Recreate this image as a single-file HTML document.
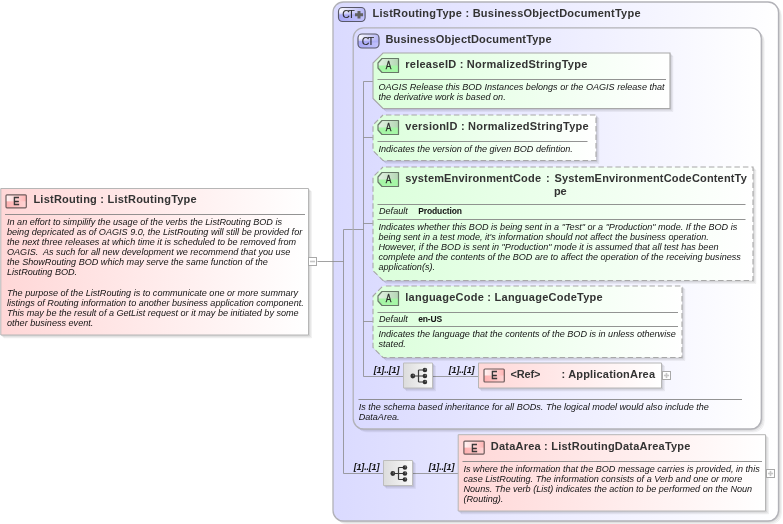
<!DOCTYPE html>
<html><head><meta charset="utf-8"><title>ListRouting</title>
<style>html,body{margin:0;padding:0;background:#fff}svg{display:block;font-family:'Liberation Sans', sans-serif;will-change:transform;transform:translateZ(0)}</style>
</head><body>
<svg width="783" height="524" viewBox="0 0 783 524">
<defs>
<linearGradient id="gE" x1="0" y1="0" x2="1" y2="0"><stop offset="0" stop-color="#fff4f4"/><stop offset="1" stop-color="#ffb4b4"/></linearGradient>
<linearGradient id="gE2" x1="0" y1="0" x2="1" y2="0"><stop offset="0" stop-color="#ffb0b0"/><stop offset="1" stop-color="#ffd4d4"/></linearGradient>
<linearGradient id="gA" x1="0" y1="0" x2="1" y2="0"><stop offset="0" stop-color="#e4f2e4"/><stop offset="1" stop-color="#b4d6b4"/></linearGradient>
<linearGradient id="gCT" x1="0" y1="0" x2="0" y2="1"><stop offset="0" stop-color="#f2f2ff"/><stop offset="0.5" stop-color="#d8d8fc"/><stop offset="0.55" stop-color="#aeaef4"/><stop offset="1" stop-color="#b8b8f6"/></linearGradient>
<linearGradient id="gCTa" x1="0" y1="0" x2="1" y2="0"><stop offset="0" stop-color="#fbfbff"/><stop offset="1" stop-color="#b6b6f6"/></linearGradient>
<linearGradient id="gCTb" x1="0" y1="0" x2="1" y2="0"><stop offset="0" stop-color="#a8a8f6"/><stop offset="1" stop-color="#c2c2fb"/></linearGradient>
<linearGradient id="gCTc" x1="0" y1="0" x2="0" y2="1"><stop offset="0" stop-color="#b0b0f6" stop-opacity="0"/><stop offset="1" stop-color="#aaaaf5" stop-opacity="0.9"/></linearGradient>
<linearGradient id="gSeq" x1="0" y1="0" x2="1" y2="0"><stop offset="0" stop-color="#dcdcdc"/><stop offset="1" stop-color="#fafafa"/></linearGradient>
<linearGradient id="g1" gradientUnits="userSpaceOnUse" x1="333" y1="0" x2="778" y2="0"><stop offset="0" stop-color="#dadaff"/><stop offset="1" stop-color="#ffffff"/></linearGradient>
<clipPath id="c2"><rect x="338.5" y="7.5" width="26.6" height="14" rx="4"/></clipPath>
<linearGradient id="g3" gradientUnits="userSpaceOnUse" x1="353" y1="0" x2="761" y2="0"><stop offset="0" stop-color="#dadaff"/><stop offset="1" stop-color="#ffffff"/></linearGradient>
<clipPath id="c4"><rect x="358" y="34" width="21" height="14" rx="4"/></clipPath>
<linearGradient id="g5" gradientUnits="userSpaceOnUse" x1="373" y1="0" x2="670" y2="0"><stop offset="0" stop-color="#dbffdb"/><stop offset="1" stop-color="#ffffff"/></linearGradient>
<linearGradient id="g6" gradientUnits="userSpaceOnUse" x1="373" y1="0" x2="596" y2="0"><stop offset="0" stop-color="#dbffdb"/><stop offset="1" stop-color="#ffffff"/></linearGradient>
<linearGradient id="g7" gradientUnits="userSpaceOnUse" x1="373" y1="0" x2="753" y2="0"><stop offset="0" stop-color="#dbffdb"/><stop offset="1" stop-color="#ffffff"/></linearGradient>
<linearGradient id="g8" gradientUnits="userSpaceOnUse" x1="373" y1="0" x2="682" y2="0"><stop offset="0" stop-color="#dbffdb"/><stop offset="1" stop-color="#ffffff"/></linearGradient>
<linearGradient id="g9" gradientUnits="userSpaceOnUse" x1="478" y1="0" x2="661" y2="0"><stop offset="0" stop-color="#ffd7d7"/><stop offset="1" stop-color="#ffffff"/></linearGradient>
<linearGradient id="g10" gradientUnits="userSpaceOnUse" x1="458" y1="0" x2="765" y2="0"><stop offset="0" stop-color="#ffd7d7"/><stop offset="1" stop-color="#ffffff"/></linearGradient>
<linearGradient id="g11" gradientUnits="userSpaceOnUse" x1="1" y1="0" x2="308" y2="0"><stop offset="0" stop-color="#ffd7d7"/><stop offset="1" stop-color="#ffffff"/></linearGradient>
</defs>
<rect width="783" height="524" fill="#fff"/>
<path d="M343.5,2H768.0A10.5,10.5 0 0 1 778.5,12.5V510.5A10.5,10.5 0 0 1 768.0,521H343.5A10.5,10.5 0 0 1 333,510.5V12.5A10.5,10.5 0 0 1 343.5,2Z" transform="translate(3,3)" fill="#000" fill-opacity="0.035" stroke="#000" stroke-opacity="0.035" stroke-width="1"/><path d="M343.5,2H768.0A10.5,10.5 0 0 1 778.5,12.5V510.5A10.5,10.5 0 0 1 768.0,521H343.5A10.5,10.5 0 0 1 333,510.5V12.5A10.5,10.5 0 0 1 343.5,2Z" transform="translate(2,2)" fill="#000" fill-opacity="0.04" stroke="#000" stroke-opacity="0.04" stroke-width="1"/><path d="M343.5,2H768.0A10.5,10.5 0 0 1 778.5,12.5V510.5A10.5,10.5 0 0 1 768.0,521H343.5A10.5,10.5 0 0 1 333,510.5V12.5A10.5,10.5 0 0 1 343.5,2Z" transform="translate(1,1)" fill="#000" fill-opacity="0.06" stroke="#000" stroke-opacity="0.06" stroke-width="1"/>
<path d="M343.5,2H768.0A10.5,10.5 0 0 1 778.5,12.5V510.5A10.5,10.5 0 0 1 768.0,521H343.5A10.5,10.5 0 0 1 333,510.5V12.5A10.5,10.5 0 0 1 343.5,2Z" fill="url(#g1)" stroke="#b2b2b8" stroke-width="1.3"/>
<g clip-path="url(#c2)"><rect x="338.5" y="7.5" width="26.6" height="14" fill="url(#gCTa)"/><rect x="338.5" y="14.5" width="26.6" height="7.0" fill="url(#gCTb)"/><rect x="338.5" y="11.7" width="26.6" height="4.2" fill="url(#gCTc)"/></g><rect x="338.5" y="7.5" width="26.6" height="14" rx="4" fill="none" stroke="#585868" stroke-width="1.15"/><text x="342.3" y="18.3" fill="#2a2a2a" xml:space="preserve" font-size="10.5" textLength="12.4" lengthAdjust="spacing" stroke="#2a2a2a" stroke-width="0.12">CT</text><path d="M355.0,14.7H363.0M359.0,10.899999999999999V18.5" stroke="#626262" stroke-width="3" fill="none"/>
<text x="372.5" y="17" fill="#333" xml:space="preserve" font-size="11" font-weight="bold" textLength="268" lengthAdjust="spacing">ListRoutingType : BusinessObjectDocumentType</text>
<path d="M317.5,261.5H343.5" stroke="#888" stroke-opacity="0.78" stroke-width="1" fill="none"/>
<path d="M353.5,229.5H343.5V473.5H383.5" stroke="#888" stroke-opacity="0.78" stroke-width="1" fill="none"/>
<path d="M412.5,473.5H458.5" stroke="#888" stroke-opacity="0.78" stroke-width="1" fill="none"/>
<path d="M363.7,27.8H750.8A10.5,10.5 0 0 1 761.3,38.3V418.5A10.5,10.5 0 0 1 750.8,429.0H363.7A10.5,10.5 0 0 1 353.2,418.5V38.3A10.5,10.5 0 0 1 363.7,27.8Z" transform="translate(3,3)" fill="#000" fill-opacity="0.035" stroke="#000" stroke-opacity="0.035" stroke-width="1"/><path d="M363.7,27.8H750.8A10.5,10.5 0 0 1 761.3,38.3V418.5A10.5,10.5 0 0 1 750.8,429.0H363.7A10.5,10.5 0 0 1 353.2,418.5V38.3A10.5,10.5 0 0 1 363.7,27.8Z" transform="translate(2,2)" fill="#000" fill-opacity="0.04" stroke="#000" stroke-opacity="0.04" stroke-width="1"/><path d="M363.7,27.8H750.8A10.5,10.5 0 0 1 761.3,38.3V418.5A10.5,10.5 0 0 1 750.8,429.0H363.7A10.5,10.5 0 0 1 353.2,418.5V38.3A10.5,10.5 0 0 1 363.7,27.8Z" transform="translate(1,1)" fill="#000" fill-opacity="0.06" stroke="#000" stroke-opacity="0.06" stroke-width="1"/>
<path d="M363.7,27.8H750.8A10.5,10.5 0 0 1 761.3,38.3V418.5A10.5,10.5 0 0 1 750.8,429.0H363.7A10.5,10.5 0 0 1 353.2,418.5V38.3A10.5,10.5 0 0 1 363.7,27.8Z" fill="url(#g3)" stroke="#b2b2b8" stroke-width="1.3"/>
<g clip-path="url(#c4)"><rect x="358" y="34" width="21" height="14" fill="url(#gCTa)"/><rect x="358" y="41.0" width="21" height="7.0" fill="url(#gCTb)"/><rect x="358" y="38.2" width="21" height="4.2" fill="url(#gCTc)"/></g><rect x="358" y="34" width="21" height="14" rx="4" fill="none" stroke="#585868" stroke-width="1.15"/><text x="361.8" y="44.8" fill="#2a2a2a" xml:space="preserve" font-size="10.5" textLength="12.4" lengthAdjust="spacing" stroke="#2a2a2a" stroke-width="0.12">CT</text>
<text x="385.5" y="43" fill="#333" xml:space="preserve" font-size="11" font-weight="bold" textLength="166" lengthAdjust="spacing">BusinessObjectDocumentType</text>
<path d="M353.5,229.5H363.5" stroke="#888" stroke-opacity="0.78" stroke-width="1" fill="none"/>
<path d="M373.5,81.5H363.5V376.5H403.5" stroke="#888" stroke-opacity="0.78" stroke-width="1" fill="none"/>
<path d="M363.5,137.5H373.5" stroke="#888" stroke-opacity="0.78" stroke-width="1" fill="none"/>
<path d="M363.5,223.5H373.5" stroke="#888" stroke-opacity="0.78" stroke-width="1" fill="none"/>
<path d="M363.5,321.5H373.5" stroke="#888" stroke-opacity="0.78" stroke-width="1" fill="none"/>
<path d="M432.5,376.5H478.5" stroke="#888" stroke-opacity="0.78" stroke-width="1" fill="none"/>
<path d="M358.5,399.5L742,399.5" stroke="#808080" stroke-opacity="0.85" stroke-width="1" fill="none"/>
<text x="358.7" y="409.5" fill="#141414" xml:space="preserve" font-size="9.08" font-style="italic">Is the schema based inheritance for all BODs. The logical model would also include the</text>
<text x="358.7" y="419.5" fill="#141414" xml:space="preserve" font-size="9.08" font-style="italic">DataArea.</text>
<path d="M383,53H670V108.5H383L373,98.5V63Z" transform="translate(3,3)" fill="#000" fill-opacity="0.035" stroke="#000" stroke-opacity="0.035" stroke-width="1"/><path d="M383,53H670V108.5H383L373,98.5V63Z" transform="translate(2,2)" fill="#000" fill-opacity="0.04" stroke="#000" stroke-opacity="0.04" stroke-width="1"/><path d="M383,53H670V108.5H383L373,98.5V63Z" transform="translate(1,1)" fill="#000" fill-opacity="0.06" stroke="#000" stroke-opacity="0.06" stroke-width="1"/><path d="M383,53H670V108.5H383L373,98.5V63Z" fill="url(#g5)" stroke="#a8a8a8" stroke-width="1.1"/><path d="M382,58.5H398.5V72.5H382L378,68.0V63.0Z" fill="url(#gA)"/><path d="M378,65.5H398.5V72.5H382L378,68.0Z" fill="#a6f6a6"/><path d="M382,58.5H398.5V72.5H382L378,68.0V63.0Z" fill="none" stroke="#687868" stroke-width="1.2" stroke-linejoin="round"/><g transform="translate(388.45,69.3) scale(0.8,1)"><text x="0" y="0" fill="#2a2a2a" xml:space="preserve" font-size="10.5" text-anchor="middle" stroke="#2a2a2a" stroke-width="0.3">A</text></g>
<text x="405.3" y="68" fill="#333" xml:space="preserve" font-size="11" font-weight="bold" textLength="182" lengthAdjust="spacing">releaseID : NormalizedStringType</text>
<path d="M377.5,79.5L666,79.5" stroke="#808080" stroke-opacity="0.85" stroke-width="1" fill="none"/>
<text x="378.5" y="89.5" fill="#141414" xml:space="preserve" font-size="9.08" font-style="italic">OAGIS Release this BOD Instances belongs or the OAGIS release that</text>
<text x="378.5" y="99.5" fill="#141414" xml:space="preserve" font-size="9.08" font-style="italic">the derivative work is based on.</text>
<path d="M383,115H596V160.5H383L373,150.5V125Z" transform="translate(3,3)" fill="#000" fill-opacity="0.035" stroke="#000" stroke-opacity="0.035" stroke-width="1"/><path d="M383,115H596V160.5H383L373,150.5V125Z" transform="translate(2,2)" fill="#000" fill-opacity="0.04" stroke="#000" stroke-opacity="0.04" stroke-width="1"/><path d="M383,115H596V160.5H383L373,150.5V125Z" transform="translate(1,1)" fill="#000" fill-opacity="0.06" stroke="#000" stroke-opacity="0.06" stroke-width="1"/><path d="M383,115H596V160.5H383L373,150.5V125Z" fill="url(#g6)" stroke="#a8a8a8" stroke-width="1.1" stroke-dasharray="5.5,3" stroke-dashoffset="5.6"/><path d="M382,120.5H398.5V134.5H382L378,130.0V125.0Z" fill="url(#gA)"/><path d="M378,127.5H398.5V134.5H382L378,130.0Z" fill="#a6f6a6"/><path d="M382,120.5H398.5V134.5H382L378,130.0V125.0Z" fill="none" stroke="#687868" stroke-width="1.2" stroke-linejoin="round"/><g transform="translate(388.45,131.3) scale(0.8,1)"><text x="0" y="0" fill="#2a2a2a" xml:space="preserve" font-size="10.5" text-anchor="middle" stroke="#2a2a2a" stroke-width="0.3">A</text></g>
<text x="405.3" y="130" fill="#333" xml:space="preserve" font-size="11" font-weight="bold" textLength="183.3" lengthAdjust="spacing">versionID : NormalizedStringType</text>
<path d="M377.5,141.5L587.5,141.5" stroke="#808080" stroke-opacity="0.85" stroke-width="1" fill="none"/>
<text x="378.5" y="151.5" fill="#141414" xml:space="preserve" font-size="9.08" font-style="italic">Indicates the version of the given BOD defintion.</text>
<path d="M383,167H753V280.5H383L373,270.5V177Z" transform="translate(3,3)" fill="#000" fill-opacity="0.035" stroke="#000" stroke-opacity="0.035" stroke-width="1"/><path d="M383,167H753V280.5H383L373,270.5V177Z" transform="translate(2,2)" fill="#000" fill-opacity="0.04" stroke="#000" stroke-opacity="0.04" stroke-width="1"/><path d="M383,167H753V280.5H383L373,270.5V177Z" transform="translate(1,1)" fill="#000" fill-opacity="0.06" stroke="#000" stroke-opacity="0.06" stroke-width="1"/><path d="M383,167H753V280.5H383L373,270.5V177Z" fill="url(#g7)" stroke="#a8a8a8" stroke-width="1.1" stroke-dasharray="5.5,3" stroke-dashoffset="5.6"/><path d="M382,172.5H398.5V186.5H382L378,182.0V177.0Z" fill="url(#gA)"/><path d="M378,179.5H398.5V186.5H382L378,182.0Z" fill="#a6f6a6"/><path d="M382,172.5H398.5V186.5H382L378,182.0V177.0Z" fill="none" stroke="#687868" stroke-width="1.2" stroke-linejoin="round"/><g transform="translate(388.45,183.3) scale(0.8,1)"><text x="0" y="0" fill="#2a2a2a" xml:space="preserve" font-size="10.5" text-anchor="middle" stroke="#2a2a2a" stroke-width="0.3">A</text></g>
<text x="405.3" y="182" fill="#333" xml:space="preserve" font-size="11" font-weight="bold" textLength="135.7" lengthAdjust="spacing">systemEnvironmentCode</text>
<text x="546" y="182" fill="#333" xml:space="preserve" font-size="11" font-weight="bold">:</text>
<text x="554.5" y="182" fill="#333" xml:space="preserve" font-size="11" font-weight="bold" textLength="192.3" lengthAdjust="spacing">SystemEnvironmentCodeContentTy</text>
<text x="554" y="195" fill="#333" xml:space="preserve" font-size="11" font-weight="bold" textLength="12.5" lengthAdjust="spacing">pe</text>
<path d="M377.5,204.5L745.5,204.5" stroke="#808080" stroke-opacity="0.85" stroke-width="1" fill="none"/>
<text x="379" y="214" fill="#141414" xml:space="preserve" font-size="9.08" font-style="italic">Default</text>
<text x="418.2" y="213.8" fill="#111" xml:space="preserve" font-size="8.5" font-weight="bold" textLength="43.8" lengthAdjust="spacing">Production</text>
<path d="M377.5,219.5L745.5,219.5" stroke="#808080" stroke-opacity="0.85" stroke-width="1" fill="none"/>
<text x="378.5" y="229.5" fill="#141414" xml:space="preserve" font-size="9.08" font-style="italic">Indicates whether this BOD is being sent in a "Test" or a "Production" mode. If the BOD is</text>
<text x="378.5" y="239.6" fill="#141414" xml:space="preserve" font-size="9.08" font-style="italic">being sent in a test mode, it's information should not affect the business operation.</text>
<text x="378.5" y="249.7" fill="#141414" xml:space="preserve" font-size="9.08" font-style="italic">However, if the BOD is sent in "Production" mode it is assumed that all test has been</text>
<text x="378.5" y="259.8" fill="#141414" xml:space="preserve" font-size="9.08" font-style="italic">complete and the contents of the BOD are to affect the operation of the receiving business</text>
<text x="378.5" y="269.9" fill="#141414" xml:space="preserve" font-size="9.08" font-style="italic">application(s).</text>
<path d="M383,286H682V357.5H383L373,347.5V296Z" transform="translate(3,3)" fill="#000" fill-opacity="0.035" stroke="#000" stroke-opacity="0.035" stroke-width="1"/><path d="M383,286H682V357.5H383L373,347.5V296Z" transform="translate(2,2)" fill="#000" fill-opacity="0.04" stroke="#000" stroke-opacity="0.04" stroke-width="1"/><path d="M383,286H682V357.5H383L373,347.5V296Z" transform="translate(1,1)" fill="#000" fill-opacity="0.06" stroke="#000" stroke-opacity="0.06" stroke-width="1"/><path d="M383,286H682V357.5H383L373,347.5V296Z" fill="url(#g8)" stroke="#a8a8a8" stroke-width="1.1" stroke-dasharray="5.5,3" stroke-dashoffset="5.6"/><path d="M382,291.5H398.5V305.5H382L378,301.0V296.0Z" fill="url(#gA)"/><path d="M378,298.5H398.5V305.5H382L378,301.0Z" fill="#a6f6a6"/><path d="M382,291.5H398.5V305.5H382L378,301.0V296.0Z" fill="none" stroke="#687868" stroke-width="1.2" stroke-linejoin="round"/><g transform="translate(388.45,302.3) scale(0.8,1)"><text x="0" y="0" fill="#2a2a2a" xml:space="preserve" font-size="10.5" text-anchor="middle" stroke="#2a2a2a" stroke-width="0.3">A</text></g>
<text x="405.3" y="301" fill="#333" xml:space="preserve" font-size="11" font-weight="bold" textLength="197.3" lengthAdjust="spacing">languageCode : LanguageCodeType</text>
<path d="M377.5,312.5L678,312.5" stroke="#808080" stroke-opacity="0.85" stroke-width="1" fill="none"/>
<text x="379" y="322" fill="#141414" xml:space="preserve" font-size="9.08" font-style="italic">Default</text>
<text x="418.2" y="321.8" fill="#111" xml:space="preserve" font-size="8.5" font-weight="bold" textLength="24" lengthAdjust="spacing">en-US</text>
<path d="M377.5,326.5L678,326.5" stroke="#808080" stroke-opacity="0.85" stroke-width="1" fill="none"/>
<text x="378.5" y="337" fill="#141414" xml:space="preserve" font-size="9.08" font-style="italic">Indicates the language that the contents of the BOD is in unless otherwise</text>
<text x="378.5" y="347" fill="#141414" xml:space="preserve" font-size="9.08" font-style="italic">stated.</text>
<path d="M403.5,363H432.5V388H403.5Z" transform="translate(3,3)" fill="#000" fill-opacity="0.035" stroke="#000" stroke-opacity="0.035" stroke-width="1"/><path d="M403.5,363H432.5V388H403.5Z" transform="translate(2,2)" fill="#000" fill-opacity="0.04" stroke="#000" stroke-opacity="0.04" stroke-width="1"/><path d="M403.5,363H432.5V388H403.5Z" transform="translate(1,1)" fill="#000" fill-opacity="0.06" stroke="#000" stroke-opacity="0.06" stroke-width="1"/><path d="M403.5,363H432.5V388H403.5Z" fill="url(#gSeq)" stroke="#bdbdbd" stroke-width="1"/><path d="M412.8,376H424.9M418.5,370V382M418.5,370H424.9M418.5,382H424.9" stroke="#3a3a3a" stroke-width="1.2" fill="none"/><circle cx="412.8" cy="376" r="2.4" fill="#303030"/><circle cx="413.40000000000003" cy="375.4" r="0.8" fill="#6a6a6a"/><circle cx="424.9" cy="370" r="2.3" fill="#303030"/><circle cx="425.5" cy="369.4" r="0.8" fill="#6a6a6a"/><circle cx="424.9" cy="376" r="2.3" fill="#303030"/><circle cx="425.5" cy="375.4" r="0.8" fill="#6a6a6a"/><circle cx="424.9" cy="382" r="2.3" fill="#303030"/><circle cx="425.5" cy="381.4" r="0.8" fill="#6a6a6a"/>
<text x="373.7" y="372.6" fill="#141414" xml:space="preserve" font-size="9" font-weight="bold" font-style="italic" textLength="25.7" lengthAdjust="spacing">[1]..[1]</text>
<text x="448.8" y="372.6" fill="#141414" xml:space="preserve" font-size="9" font-weight="bold" font-style="italic" textLength="25.7" lengthAdjust="spacing">[1]..[1]</text>
<path d="M478.5,363H661.5V388H478.5Z" transform="translate(3,3)" fill="#000" fill-opacity="0.035" stroke="#000" stroke-opacity="0.035" stroke-width="1"/><path d="M478.5,363H661.5V388H478.5Z" transform="translate(2,2)" fill="#000" fill-opacity="0.04" stroke="#000" stroke-opacity="0.04" stroke-width="1"/><path d="M478.5,363H661.5V388H478.5Z" transform="translate(1,1)" fill="#000" fill-opacity="0.06" stroke="#000" stroke-opacity="0.06" stroke-width="1"/>
<path d="M478.5,363H661.5V388H478.5Z" fill="url(#g9)" stroke="#b6b6b6" stroke-width="1"/>
<rect x="484" y="369" width="20.3" height="13" rx="1" fill="url(#gE)"/><rect x="484" y="375.5" width="20.3" height="6.5" fill="url(#gE2)"/><rect x="484" y="369" width="20.3" height="13" rx="1" fill="none" stroke="#6e5c5c" stroke-width="1.2"/><g transform="translate(494.34999999999997,379.4) scale(0.84,1)"><text x="0" y="0" fill="#333" xml:space="preserve" font-size="10.8" text-anchor="middle" stroke="#333" stroke-width="0.6">E</text></g>
<text x="510.5" y="377.8" fill="#333" xml:space="preserve" font-size="11" font-weight="bold" textLength="30" lengthAdjust="spacing">&lt;Ref&gt;</text>
<text x="561.5" y="377.8" fill="#333" xml:space="preserve" font-size="11" font-weight="bold" textLength="93.5" lengthAdjust="spacing">: ApplicationArea</text>
<rect x="662.5" y="371.5" width="8" height="8" fill="#fff" stroke="#a9a9a9" stroke-width="1"/><path d="M663.9,375.5H669.1" stroke="#c6c6c6" stroke-width="1.6"/><path d="M666.5,372.9V378.1" stroke="#c6c6c6" stroke-width="1.6"/>
<path d="M383.5,460.5H412.5V485.5H383.5Z" transform="translate(3,3)" fill="#000" fill-opacity="0.035" stroke="#000" stroke-opacity="0.035" stroke-width="1"/><path d="M383.5,460.5H412.5V485.5H383.5Z" transform="translate(2,2)" fill="#000" fill-opacity="0.04" stroke="#000" stroke-opacity="0.04" stroke-width="1"/><path d="M383.5,460.5H412.5V485.5H383.5Z" transform="translate(1,1)" fill="#000" fill-opacity="0.06" stroke="#000" stroke-opacity="0.06" stroke-width="1"/><path d="M383.5,460.5H412.5V485.5H383.5Z" fill="url(#gSeq)" stroke="#bdbdbd" stroke-width="1"/><path d="M392.8,473.5H404.9M398.5,467.5V479.5M398.5,467.5H404.9M398.5,479.5H404.9" stroke="#3a3a3a" stroke-width="1.2" fill="none"/><circle cx="392.8" cy="473.5" r="2.4" fill="#303030"/><circle cx="393.40000000000003" cy="472.9" r="0.8" fill="#6a6a6a"/><circle cx="404.9" cy="467.5" r="2.3" fill="#303030"/><circle cx="405.5" cy="466.9" r="0.8" fill="#6a6a6a"/><circle cx="404.9" cy="473.5" r="2.3" fill="#303030"/><circle cx="405.5" cy="472.9" r="0.8" fill="#6a6a6a"/><circle cx="404.9" cy="479.5" r="2.3" fill="#303030"/><circle cx="405.5" cy="478.9" r="0.8" fill="#6a6a6a"/>
<text x="353.7" y="469.8" fill="#141414" xml:space="preserve" font-size="9" font-weight="bold" font-style="italic" textLength="25.7" lengthAdjust="spacing">[1]..[1]</text>
<text x="428.7" y="469.8" fill="#141414" xml:space="preserve" font-size="9" font-weight="bold" font-style="italic" textLength="25.7" lengthAdjust="spacing">[1]..[1]</text>
<path d="M458.2,434.7H765.5V511.0H458.2Z" transform="translate(3,3)" fill="#000" fill-opacity="0.035" stroke="#000" stroke-opacity="0.035" stroke-width="1"/><path d="M458.2,434.7H765.5V511.0H458.2Z" transform="translate(2,2)" fill="#000" fill-opacity="0.04" stroke="#000" stroke-opacity="0.04" stroke-width="1"/><path d="M458.2,434.7H765.5V511.0H458.2Z" transform="translate(1,1)" fill="#000" fill-opacity="0.06" stroke="#000" stroke-opacity="0.06" stroke-width="1"/>
<path d="M458.2,434.7H765.5V511.0H458.2Z" fill="url(#g10)" stroke="#b6b6b6" stroke-width="1"/>
<rect x="463.9" y="441.1" width="20.3" height="13" rx="1" fill="url(#gE)"/><rect x="463.9" y="447.6" width="20.3" height="6.5" fill="url(#gE2)"/><rect x="463.9" y="441.1" width="20.3" height="13" rx="1" fill="none" stroke="#6e5c5c" stroke-width="1.2"/><g transform="translate(474.24999999999994,451.5) scale(0.84,1)"><text x="0" y="0" fill="#333" xml:space="preserve" font-size="10.8" text-anchor="middle" stroke="#333" stroke-width="0.6">E</text></g>
<text x="490.8" y="450" fill="#333" xml:space="preserve" font-size="11" font-weight="bold" textLength="199.6" lengthAdjust="spacing">DataArea : ListRoutingDataAreaType</text>
<path d="M462.5,461.5L762,461.5" stroke="#808080" stroke-opacity="0.85" stroke-width="1" fill="none"/>
<text x="463.5" y="471.5" fill="#141414" xml:space="preserve" font-size="9.08" font-style="italic">Is where the information that the BOD message carries is provided, in this</text>
<text x="463.5" y="481.6" fill="#141414" xml:space="preserve" font-size="9.08" font-style="italic">case ListRouting. The information consists of a Verb and one or more</text>
<text x="463.5" y="491.7" fill="#141414" xml:space="preserve" font-size="9.08" font-style="italic">Nouns. The verb (List) indicates the action to be performed on the Noun</text>
<text x="463.5" y="501.8" fill="#141414" xml:space="preserve" font-size="9.08" font-style="italic">(Routing).</text>
<rect x="766.5" y="469.5" width="8" height="8" fill="#fff" stroke="#a9a9a9" stroke-width="1"/><path d="M767.9,473.5H773.1" stroke="#c6c6c6" stroke-width="1.6"/><path d="M770.5,470.9V476.1" stroke="#c6c6c6" stroke-width="1.6"/>
<path d="M0.8,188.5H308.5V335.0H0.8Z" transform="translate(3,3)" fill="#000" fill-opacity="0.035" stroke="#000" stroke-opacity="0.035" stroke-width="1"/><path d="M0.8,188.5H308.5V335.0H0.8Z" transform="translate(2,2)" fill="#000" fill-opacity="0.04" stroke="#000" stroke-opacity="0.04" stroke-width="1"/><path d="M0.8,188.5H308.5V335.0H0.8Z" transform="translate(1,1)" fill="#000" fill-opacity="0.06" stroke="#000" stroke-opacity="0.06" stroke-width="1"/>
<path d="M0.8,188.5H308.5V335.0H0.8Z" fill="url(#g11)" stroke="#b6b6b6" stroke-width="1"/>
<rect x="6" y="194.8" width="20.3" height="13" rx="1" fill="url(#gE)"/><rect x="6" y="201.3" width="20.3" height="6.5" fill="url(#gE2)"/><rect x="6" y="194.8" width="20.3" height="13" rx="1" fill="none" stroke="#6e5c5c" stroke-width="1.2"/><g transform="translate(16.349999999999998,205.20000000000002) scale(0.84,1)"><text x="0" y="0" fill="#333" xml:space="preserve" font-size="10.8" text-anchor="middle" stroke="#333" stroke-width="0.6">E</text></g>
<text x="33.4" y="203" fill="#333" xml:space="preserve" font-size="11" font-weight="bold" textLength="163.3" lengthAdjust="spacing">ListRouting : ListRoutingType</text>
<path d="M5,214.5L305,214.5" stroke="#808080" stroke-opacity="0.85" stroke-width="1" fill="none"/>
<text x="7" y="224.7" fill="#141414" xml:space="preserve" font-size="9.08" font-style="italic">In an effort to simpilify the usage of the verbs the ListRouting BOD is</text>
<text x="7" y="234.82999999999998" fill="#141414" xml:space="preserve" font-size="9.08" font-style="italic">being depricated as of OAGIS 9.0, the ListRouting will still be provided for</text>
<text x="7" y="244.95999999999998" fill="#141414" xml:space="preserve" font-size="9.08" font-style="italic">the next three releases at which time it is scheduled to be removed from</text>
<text x="7" y="255.08999999999997" fill="#141414" xml:space="preserve" font-size="9.08" font-style="italic">OAGIS.  As such for all new development we recommend that you use</text>
<text x="7" y="265.21999999999997" fill="#141414" xml:space="preserve" font-size="9.08" font-style="italic">the ShowRouting BOD which may serve the same function of the</text>
<text x="7" y="275.35" fill="#141414" xml:space="preserve" font-size="9.08" font-style="italic">ListRouting BOD.</text>
<text x="7" y="295.61" fill="#141414" xml:space="preserve" font-size="9.08" font-style="italic">The purpose of the ListRouting is to communicate one or more summary</text>
<text x="7" y="305.74" fill="#141414" xml:space="preserve" font-size="9.08" font-style="italic">listings of Routing information to another business application component.</text>
<text x="7" y="315.87" fill="#141414" xml:space="preserve" font-size="9.08" font-style="italic">This may be the result of a GetList request or it may be initiated by some</text>
<text x="7" y="326.0" fill="#141414" xml:space="preserve" font-size="9.08" font-style="italic">other business event.</text>
<rect x="308.5" y="257.5" width="8" height="8" fill="#fff" stroke="#a9a9a9" stroke-width="1"/><path d="M309.9,261.5H315.1" stroke="#c6c6c6" stroke-width="1.6"/>
</svg>
</body></html>
